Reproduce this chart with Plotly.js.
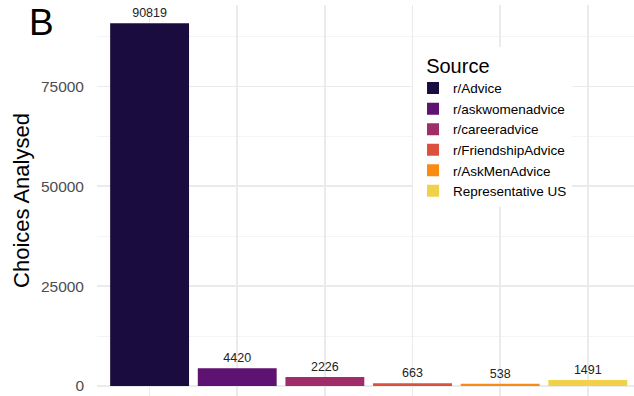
<!DOCTYPE html>
<html>
<head>
<meta charset="utf-8">
<script src="https://cdn.plot.ly/plotly-3.0.1.min.js"></script>
<style>html,body{margin:0;padding:0;background:#fff;}#chart{width:634px;height:396px;}</style>
</head>
<body>
<div id="chart"></div>
<script>
const sources = ["r/Advice", "r/askwomenadvice", "r/careeradvice", "r/FriendshipAdvice", "r/AskMenAdvice", "Representative US"];
const choices = [90819, 4420, 2226, 663, 538, 1491];
const yTicks = [0, 25000, 50000, 75000];
const palette = ["#1B0C3F", "#5E1271", "#A02D6A", "#DC503D", "#F98A12", "#F2D14A"];

const FONT = "Liberation Sans, Arial, Helvetica, sans-serif";

const traces = sources.map((s, i) => ({
  type: "bar",
  name: s,
  x: [s],
  y: [choices[i]],
  width: 0.9,
  marker: {color: palette[i], line: {width: 0}},
  text: [String(choices[i])],
  textposition: "outside",
  textfont: {family: FONT, size: 12.5, color: "#222"},
  cliponaxis: false,
  hoverinfo: "none"
}));

const layout = {
  width: 634, height: 396,
  margin: {l: 97, r: 0, t: 5, b: 0},
  paper_bgcolor: "#fff", plot_bgcolor: "#fff",
  font: {family: FONT},
  barmode: "overlay",
  showlegend: true,
  xaxis: {
    type: "category",
    categoryarray: sources, categoryorder: "array",
    range: [-0.6, 5.527],
    showticklabels: false,
    showgrid: true, gridcolor: "#EBEBEB", gridwidth: 1.5,
    zeroline: false, showline: false, ticks: ""
  },
  yaxis: {
    range: [-2500, 95360],
    tickvals: yTicks,
    ticktext: yTicks.map(String),
    tickfont: {family: FONT, size: 15.5, color: "#4D4D4D"},
    ticks: "",
    ticklabelstandoff: 12,
    showgrid: true, gridcolor: "#EBEBEB", gridwidth: 1.5,
    minor: {tickvals: [12500, 37500, 62500, 87500], showgrid: true, gridcolor: "#F1F1F1", gridwidth: 0.8, ticks: ""},
    zeroline: false, showline: false,
    title: {text: "Choices Analysed", font: {family: FONT, size: 22, color: "#000"}, standoff: 5},
    automargin: false
  },
  legend: {
    x: 0.5885, y: 0.893, xanchor: "left", yanchor: "top",
    bgcolor: "#fff", borderwidth: 0,
    title: {text: "&nbsp;&nbsp;Source", font: {family: FONT, size: 20, color: "#000"}},
    font: {family: FONT, size: 13.5, color: "#000"},
    tracegroupgap: 0,
    itemclick: false
  },
  annotations: [{
    text: "B", xref: "paper", yref: "paper",
    x: -0.130, y: 1.0125, xanchor: "left", yanchor: "top",
    showarrow: false,
    font: {family: FONT, size: 37, color: "#000"}
  }]
};

Plotly.newPlot("chart", traces, layout, {displayModeBar: false, staticPlot: true});
</script>
</body>
</html>
